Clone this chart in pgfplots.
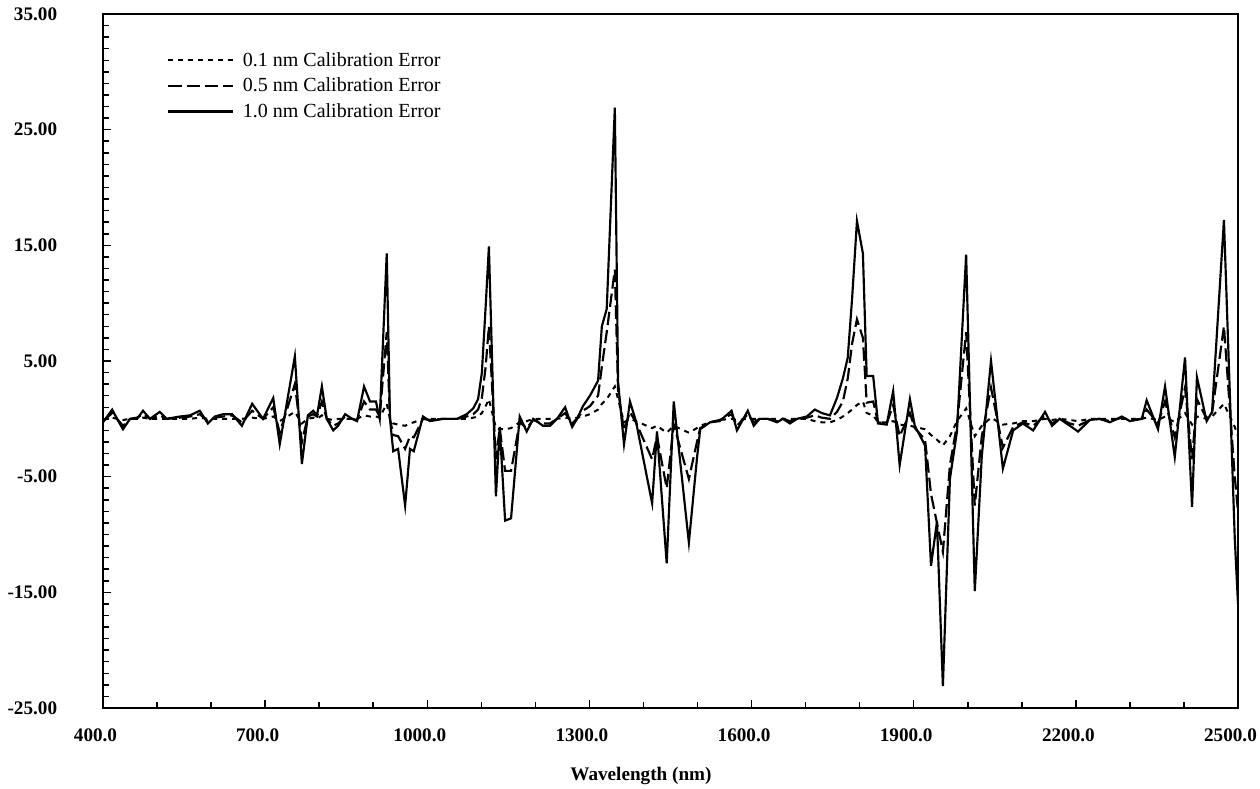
\documentclass[border=0pt]{standalone}
\usepackage{pgfplots}
\pgfplotsset{compat=1.18}
\usepackage{pgfplotstable}
\usepackage{fontspec}
\setmainfont{Liberation Serif}

\pgfplotstableread{
x s d t
400 -0.3 -0.2 -0.1
417 0.8 0.5 0.1
426 0 0 0
437 -0.9 -0.6 -0.1
450 0 0 0
463 0 0.1 0
474 0.7 0.4 0.1
487 0 0 0
505 0.6 0.3 0
518 0 0 0
542 0.2 0.1 0
561 0.3 0.2 0
579 0.7 0.4 0.1
594 -0.4 -0.2 0
607 0.2 0.1 0
622 0.4 0.2 0
639 0.4 0.3 0
657 -0.6 -0.3 0
676 1.3 0.7 0.1
696 0 0 0
715 1.8 1.0 0.2
727 -2.2 -1.2 -0.2
755 5.4 3.0 0.6
768 -3.9 -2.0 -0.4
779 0.3 0.2 0
789 0.7 0.4 0.1
796 0.3 0.2 0
805 2.8 1.5 0.3
814 0 0 0
826 -1.0 -0.6 -0.1
835 -0.6 -0.4 0
848 0.4 0.2 0
861 0 0 0
870 -0.2 -0.1 0
883 2.8 1.5 0.3
894 1.5 0.8 0.2
905 1.5 0.8 0.2
912 0 0.2 0.1
925 14.3 7.5 1.3
931 0 0 0
937 -2.8 -1.4 -0.4
946 -2.6 -1.5 -0.5
959 -7.5 -2.6 -0.6
968 -2.6 -1.5 -0.4
975 -2.8 -1.6 -0.3
992 0.2 0 0
1005 -0.2 -0.1 0
1029 0 0 0
1055 0 0 0
1073 0.4 0.2 0
1085 0.9 0.4 0.1
1094 1.7 0.8 0.2
1101 4.0 1.8 0.5
1108 9.7 4.5 1.1
1114 14.9 8.0 1.7
1127 -6.7 -3.5 -0.8
1134 -0.7 -0.8 -0.9
1144 -8.8 -4.5 -0.9
1155 -8.6 -4.5 -0.8
1171 0.2 -0.3 -0.3
1184 -1.1 -0.8 -0.2
1196 0 -0.1 0
1214 -0.6 -0.4 0
1227 -0.6 -0.4 0
1240 0 0 0
1255 1.0 0.5 0.1
1268 -0.7 -0.4 0
1277 0 0 0.1
1288 1.1 0.7 0.2
1301 2.0 1.1 0.4
1316 3.3 2.0 0.8
1323 8.0 4.5 1.3
1332 9.5 7.5 1.7
1347 26.9 12.9 2.8
1353 3.2 2.5 1.7
1364 -2.2 -1.0 -0.3
1375 1.5 0.6 0
1386 -0.2 -0.3 -0.2
1416 -7.3 -3.5 -0.8
1425 -1.1 -1.5 -0.6
1443 -12.5 -6.0 -1.2
1456 1.5 -0.5 -0.6
1484 -10.7 -5.2 -1.2
1499 -3.4 -2.0 -0.8
1505 -0.9 -0.8 -0.6
1523 -0.3 -0.3 -0.3
1541 -0.2 -0.1 -0.1
1563 0.7 0.4 0
1573 -1.0 -0.6 -0.1
1593 0.7 0.4 0
1604 -0.6 -0.3 0
1615 0 0 0
1630 0 0 0
1647 -0.3 -0.2 0
1658 0 0 0
1671 -0.4 -0.2 0
1684 0 0 0
1702 0.2 0.1 0
1717 0.8 0.3 -0.2
1730 0.5 0.1 -0.3
1745 0.3 0 -0.3
1758 1.8 0.6 -0.1
1769 3.5 1.5 0.2
1778 5.3 3.5 0.5
1786 10.4 6.5 0.8
1795 17.1 8.6 1.2
1806 14.3 7.0 1.5
1813 3.7 1.4 0.5
1825 3.7 1.5 0.3
1834 -0.4 -0.3 -0.3
1850 -0.5 -0.4 -0.3
1862 2.4 1.2 -0.2
1874 -4.0 -1.5 -0.5
1893 1.7 0.5 -0.6
1902 -0.6 -0.8 -0.7
1921 -2.3 -1.8 -0.9
1932 -12.7 -6.5 -1.4
1943 -8.9 -9.0 -1.8
1954 -23.1 -11.5 -2.3
1967 -5.2 -4.0 -1.5
1980 -1.1 -0.5 -0.2
1997 14.2 7.5 0.9
2013 -14.9 -7.5 -1.5
2026 -3.2 -1.5 -0.6
2043 5.0 2.7 0.1
2065 -4.3 -2.5 -0.5
2084 -1.0 -0.7 -0.4
2102 -0.4 -0.3 -0.2
2121 -1.0 -0.6 -0.2
2143 0.6 0.3 0
2156 -0.6 -0.4 -0.1
2170 0 0 0
2189 -0.6 -0.4 -0.1
2204 -1.1 -0.6 -0.2
2226 -0.1 -0.1 0
2244 0 0 0
2263 -0.3 -0.2 0
2285 0.2 0.1 0
2300 -0.2 -0.1 0
2322 0 0 0
2331 1.6 0.8 0.1
2352 -0.9 -0.4 -0.1
2365 2.8 1.5 0.2
2383 -3.3 -1.6 -0.3
2402 5.3 2.7 0.5
2415 -7.6 -3.5 -0.5
2424 3.6 1.7 0.2
2442 -0.2 0 0
2452 0.6 0.5 0.2
2474 17.2 8.0 1.3
2494 -10.3 -5.0 -0.7
2500 -16.0 -8.0 -1.5
}\datatable

\begin{document}
\begin{tikzpicture}
\begin{axis}[
  scale only axis,
  width=681pt, height=416.4pt,
  xmin=400, xmax=2500, ymin=-25, ymax=35,
  xtick={400,700,...,2500}, minor x tick num=2,
  ytick={-25,-15,...,35}, minor y tick num=9,
  tick align=inside, xtick pos=left, ytick pos=left,
  major tick length=5pt, minor tick length=3.5pt,
  axis line style={line width=1.5pt},
  tick style={line width=0.9pt, black},
  /pgf/number format/assume math mode=true,
  x tick label style={font=\bfseries\fontsize{11.5}{13}\selectfont,
    /pgf/number format/fixed, /pgf/number format/fixed zerofill,
    /pgf/number format/precision=1, /pgf/number format/1000 sep={},
    yshift=-8.8pt, xshift=-4.5pt},
  y tick label style={font=\bfseries\fontsize{11.5}{13}\selectfont,
    /pgf/number format/fixed, /pgf/number format/fixed zerofill,
    /pgf/number format/precision=2,
    anchor=east, xshift=-24pt},
  xlabel={Wavelength (nm)},
  xlabel style={font=\bfseries\fontsize{11.5}{13}\selectfont,
    at={(axis description cs:0.474,0)}, anchor=center, yshift=-40.8pt},
  legend style={at={(axis description cs:0.052,0.955)}, anchor=north west,
    draw=none, fill=none, font=\fontsize{12}{13}\selectfont,
    row sep=1.5pt, cells={anchor=west}},
  legend image code/.code={\draw[#1] (0pt,0pt) -- (39pt,0pt); \path (42pt,0pt);},
]
\addplot[black, line width=1.2pt, dash pattern=on 3pt off 3pt] table[x=x, y=t] {\datatable};
\addlegendentry{0.1 nm Calibration Error}
\addplot[black, line width=1.3pt, dash pattern=on 8pt off 3pt] table[x=x, y=d] {\datatable};
\addlegendentry{0.5 nm Calibration Error}
\addplot[black, line width=1.3pt] table[x=x, y=s] {\datatable};
\addlegendentry{1.0 nm Calibration Error}
\end{axis}
\pgfresetboundingbox
\path[use as bounding box] (-61.8pt,-48.6pt) rectangle (694.2pt,424.8pt);
\end{tikzpicture}
\end{document}
